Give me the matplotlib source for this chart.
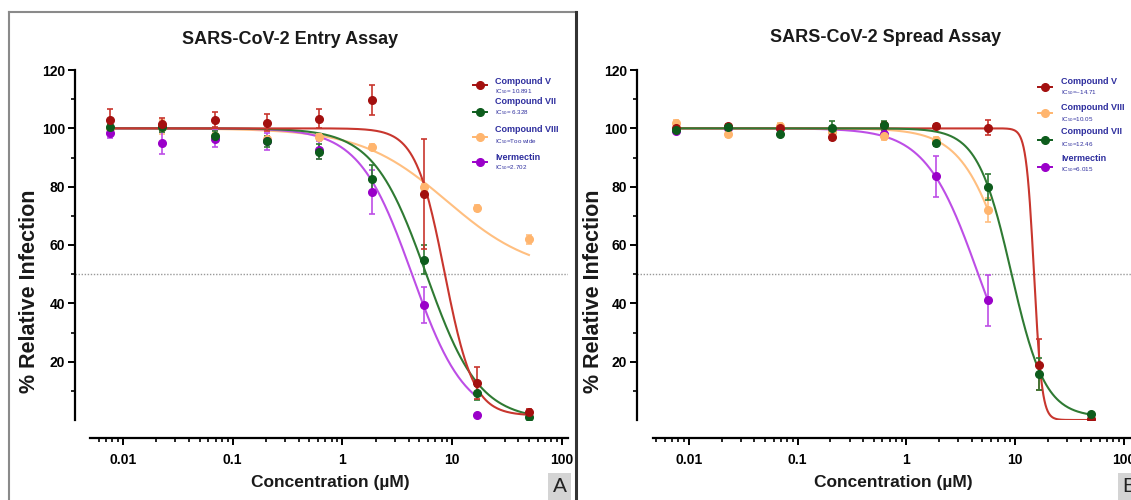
import numpy as np
import matplotlib
matplotlib.use("Agg")
import matplotlib.pyplot as plt
from matplotlib.lines import Line2D
from matplotlib.patches import Rectangle
from matplotlib.ticker import FixedLocator, NullFormatter, FuncFormatter

plt.rcParams['font.family'] = ['Liberation Sans', 'DejaVu Sans']
plt.rcParams['mathtext.default'] = 'regular'

W, H = 1131, 500

# concentrations (uM), 3-fold dilution
conc = [0.00762, 0.0229, 0.0686, 0.206, 0.617, 1.85, 5.56, 16.7, 50.0]

# panel A: entry assay
entry_v = [103, 101.5, 103, 102, 103.3, 109.7, 77.5, 12.8, 2.8]
entry_v_err = [3.5, 2, 2.5, 3, 3.3, 5, 19, 5.5, 1]
entry_vii = [100.5, 100.3, 97.5, 95.5, 92, 82.6, 55, 9.3, 1]
entry_vii_err = [1, 1.5, 1.5, 2, 2.5, 5, 5, 2.5, 0.5]
entry_viii = [100, 100.5, 97.5, 96.5, 97, 93.5, 80, 72.7, 62]
entry_viii_err = [1, 2.5, 1, 1, 1, 1, 1, 1, 1.5]
entry_iver = [98.3, 95, 96.5, 95.5, 92.5, 78.3, 39.5, 1.7]
entry_iver_err = [1.5, 3.7, 3, 3, 3, 7.5, 6.2, 0]

# panel B: spread assay
spread_v = [100, 100.8, 100, 97, 101.2, 100.8, 100.2, 19, 0.3]
spread_v_err = [0.5, 0.8, 0.5, 1, 1, 0.8, 2.5, 8.7, 0.3]
spread_viii = [101.7, 98.2, 100.8, 98.8, 97.4, 96, 72]
spread_viii_err = [1, 1, 1, 2, 1.5, 1, 4]
spread_vii = [99.4, 100.5, 98.2, 100, 101, 95, 80, 15.8, 2]
spread_vii_err = [0.5, 0.8, 0.8, 2.5, 1.5, 1, 4.5, 5.5, 0.5]
spread_iver = [99, 100, 100, 99, 98, 83.5, 41]
spread_iver_err = [0.5, 0.5, 0.5, 1, 1.5, 7, 8.6]

# four-parameter fits: top, bottom, ic50, hill
entry_fits = {'v': (100, 1.5, 8.5, 3.3), 'vii': (100, 0, 5.8, 1.8),
              'viii': (100, 50, 9, 1.1), 'iver': (100, 0, 4.3, 1.8)}
spread_fits = {'v': (100, 0, 14.9, 12), 'vii': (100, 1, 9.2, 2.8),
               'viii': (100, 0, 9.0, 2.0), 'iver': (100, 0, 4.57, 1.79)}

entry_names = ['Compound V', 'Compound VII', 'Compound VIII', 'Ivermectin']
entry_ic50 = ['IC$_{50}$= 10.891', 'IC$_{50}$= 6.328', 'IC$_{50}$=Too wide', 'IC$_{50}$=2.702']
spread_names = ['Compound V', 'Compound VIII', 'Compound VII', 'Ivermectin']
spread_ic50 = ['IC$_{50}$=~14.71', 'IC$_{50}$=10.05', 'IC$_{50}$=12.46', 'IC$_{50}$=6.015']

# marker colour, curve colour
colors = {'v': ('#a3100f', '#c8362e'), 'vii': ('#0d5c1c', '#2f7a33'),
          'viii': ('#ffb56e', '#ffbf80'), 'iver': ('#9a00c9', '#bd4ee6')}
NAVY = '#2e2e9e'


def fx(px):
    return px / W


def fy(py):
    return 1 - py / H


def logistic(x, top, bottom, ic50, hill):
    return bottom + (top - bottom) / (1 + (x / ic50) ** hill)


def draw_series(ax, key, vals, errs, fit):
    mc, lc = colors[key]
    x = np.array(conc[:len(vals)])
    xs = np.logspace(np.log10(x[0]), np.log10(x[-1]), 400)
    ax.plot(xs, logistic(xs, *fit), color=lc, lw=1.5, zorder=3)
    ax.errorbar(x, vals, yerr=errs, fmt='o', color=mc, ms=5.5, ecolor=lc,
                elinewidth=1.2, capsize=2.5, capthick=1.2, zorder=4)


def style_axes(ax, xleft, xright, xstart):
    ax.set_xscale('log')
    ax.set_xlim(xleft, xright)
    ax.set_ylim(0, 120)
    ax.spines['top'].set_visible(False)
    ax.spines['right'].set_visible(False)
    for s in ('left', 'bottom'):
        ax.spines[s].set_linewidth(1.6)
    ax.spines['bottom'].set_position(('outward', 13))
    ax.spines['bottom'].set_bounds(xstart, xright)
    ax.yaxis.set_major_locator(FixedLocator([20, 40, 60, 80, 100, 120]))
    ax.yaxis.set_minor_locator(FixedLocator([10, 30, 50, 70, 90, 110]))
    ax.xaxis.set_major_locator(FixedLocator([0.01, 0.1, 1, 10, 100]))
    minors = [m * 10.0 ** e for e in range(-3, 2) for m in range(2, 10)]
    minors = [v for v in minors if xstart <= v <= xright]
    ax.xaxis.set_minor_locator(FixedLocator(minors))
    ax.xaxis.set_minor_formatter(NullFormatter())
    ax.xaxis.set_major_formatter(FuncFormatter(lambda v, p: '%g' % v))
    ax.tick_params(which='major', length=5, width=1.4, labelsize=10, pad=2)
    ax.tick_params(which='minor', length=3, width=1.2)
    ax.tick_params(axis='x', which='major', pad=6)
    for lab in ax.get_xticklabels() + ax.get_yticklabels():
        lab.set_fontweight('bold')
    ax.axhline(50, color='#999999', lw=1, ls=(0, (1, 1.2)), zorder=1)
    ax.set_facecolor('none')


def legend(fig, keys, names, ics, mx, tx, name_y, ic_y, mark_y):
    for k, n, ic, ny, iy, my in zip(keys, names, ics, name_y, ic_y, mark_y):
        mc, lc = colors[k]
        fig.add_artist(Line2D([fx(mx - 7), fx(mx + 7)], [fy(my), fy(my)], color=mc, lw=1.4))
        fig.add_artist(Line2D([fx(mx)], [fy(my)], marker='o', ms=5.5, color=mc))
        fig.text(fx(tx), fy(ny), n, color=NAVY, fontsize=6.5, fontweight='bold', va='center')
        fig.text(fx(tx), fy(iy), ic, color=NAVY, fontsize=4.5, va='center')


fig = plt.figure(figsize=(W / 100, H / 100), dpi=100)

# panel A
ax1 = fig.add_axes([fx(75), 1 - 420 / H, (568 - 75) / W, 350 / H])
draw_series(ax1, 'viii', entry_viii, entry_viii_err, entry_fits['viii'])
draw_series(ax1, 'iver', entry_iver, entry_iver_err, entry_fits['iver'])
draw_series(ax1, 'vii', entry_vii, entry_vii_err, entry_fits['vii'])
draw_series(ax1, 'v', entry_v, entry_v_err, entry_fits['v'])
style_axes(ax1, 10 ** -2.437, 10 ** 2.055, 10 ** -2.3)

# panel B
ax2 = fig.add_axes([fx(637), 1 - 420 / H, (1133 - 637) / W, 350 / H])
draw_series(ax2, 'iver', spread_iver, spread_iver_err, spread_fits['iver'])
draw_series(ax2, 'viii', spread_viii, spread_viii_err, spread_fits['viii'])
draw_series(ax2, 'v', spread_v, spread_v_err, spread_fits['v'])
draw_series(ax2, 'vii', spread_vii, spread_vii_err, spread_fits['vii'])
style_axes(ax2, 10 ** -2.478, 10 ** 2.083, 10 ** -2.331)

# titles and axis labels
fig.text(fx(290), fy(39), 'SARS-CoV-2 Entry Assay', ha='center', va='center',
         fontsize=13, fontweight='bold', color='#1a1a1a')
fig.text(fx(886), fy(38), 'SARS-CoV-2 Spread Assay', ha='center', va='center',
         fontsize=13, fontweight='bold', color='#1a1a1a')
for cx in (330, 893):
    fig.text(fx(cx), fy(483), 'Concentration (µM)', ha='center', va='center',
             fontsize=12.5, fontweight='bold', color='#1a1a1a')
for cx in (30, 593):
    fig.text(fx(cx), fy(291), '% Relative Infection', ha='center', va='center',
             rotation=90, fontsize=15.5, fontweight='bold', color='#1a1a1a')

legend(fig, ['v', 'vii', 'viii', 'iver'], entry_names, entry_ic50, 480, 495,
       [81, 102, 130, 157], [92, 113, 142, 168], [85, 112, 137, 162])
legend(fig, ['v', 'viii', 'vii', 'iver'], spread_names, spread_ic50, 1045, 1061,
       [82, 107, 132, 158], [93, 120, 145, 170], [87, 113, 140, 167])

# panel frame and letters
fig.add_artist(Line2D([fx(9), fx(576)], [fy(12), fy(12)], color='#8a8a8a', lw=1.5))
fig.add_artist(Line2D([fx(9), fx(9)], [fy(12), fy(500)], color='#8a8a8a', lw=1.5))
fig.add_artist(Line2D([fx(576), fx(576)], [fy(12), fy(500)], color='#333333', lw=2.2))
fig.add_artist(Rectangle((fx(548), fy(500)), 23 / W, 27 / H, transform=fig.transFigure,
                         facecolor='#d4d4d4', edgecolor='none'))
fig.text(fx(559.5), fy(487), 'A', ha='center', va='center', fontsize=15, color='#222222')
fig.add_artist(Rectangle((fx(1118), fy(500)), 23 / W, 27 / H, transform=fig.transFigure,
                         facecolor='#d4d4d4', edgecolor='none'))
fig.text(fx(1129.5), fy(487), 'B', ha='center', va='center', fontsize=15, color='#222222')

fig.savefig('out.png', dpi=100)
